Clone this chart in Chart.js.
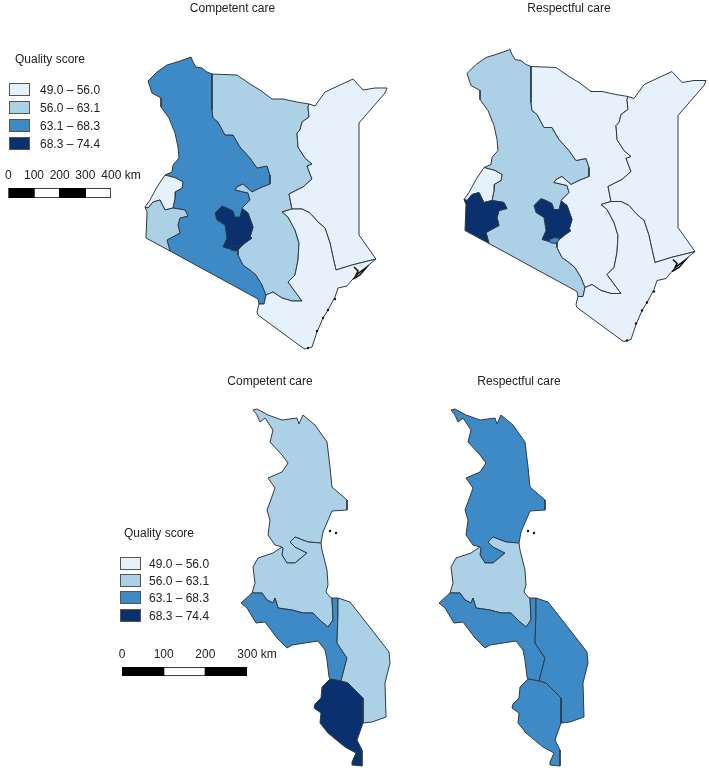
<!DOCTYPE html>
<html>
<head>
<meta charset="utf-8">
<title>Quality score maps</title>
<script src="https://cdn.jsdelivr.net/npm/chart.js@4"></script>
<style>
html, body { margin: 0; padding: 0; background: #fff; }
#page { position: relative; width: 709px; height: 768px; overflow: hidden; font: 12px "Liberation Sans", Arial, sans-serif; color: #222; }
#page canvas { position: absolute; }
.txt { position: absolute; white-space: nowrap; line-height: 14px; }
.box { position: absolute; width: 21px; box-sizing: border-box; border: 1px solid #555; }
</style>
</head>
<body>
<div id="page"></div>
<script>
'use strict';

// colour classes, shared by all four maps
let classLabels = ['49.0 – 56.0', '56.0 – 63.1', '63.1 – 68.3', '68.3 – 74.4'];
let classBreaks = [56.0, 63.1, 68.3, 74.4];
let classColors = ['#e6f1fb', '#acd0e6', '#3e8ac6', '#0a316e'];

let kenyaRegions = ['Rift Valley', 'Eastern', 'North Eastern', 'Coast', 'Western', 'Nyanza', 'Central', 'Nairobi'];
let kenyaCompetent = [66, 60, 52, 52, 52, 60, 71, 71];
let kenyaRespectful = [60, 52, 52, 52, 52, 71, 71, 66];

let malawiRegions = ['Northern', 'Central', 'South West', 'South East', 'Southern'];
let malawiCompetent = [60, 60, 66, 60, 71];
let malawiRespectful = [66, 60, 66, 66, 66];

let scaleKenya = [100, 100, 100, 100];
let scaleMalawi = [100, 100, 100];

// shared borders, in map units
let riftNorth = [[212,74],[207,72],[202,68],[196,67],[193,62],[191,57],[180,61],[167,65],[157,72],[148,81],[151,90],[152,93],[161,98],[161,107],[169,118],[175,133],[178,147],[179,158],[173,165],[172,172],[165,175]];
let riftWestern = [[165,175],[176,178],[183,182],[182,188],[175,192],[175,198],[173,208]];
let riftNyanza = [[173,208],[185,210],[188,216],[180,218],[178,225],[180,233],[167,240],[170,251]];
let riftSouth = [[170,251],[258,299],[259,304],[264,304],[266,295]];
let riftEastern = [[212,74],[212,107],[212,110],[213,118],[218,122],[225,135],[233,135],[240,147],[250,158],[257,168],[267,166],[270,175],[270,184],[260,188],[252,192],[243,184],[237,187],[235,190],[248,193],[250,200],[242,208],[248,213],[253,227],[250,237],[252,238],[245,243],[238,249],[238,255],[243,265],[250,270],[256,275],[262,285],[266,295]];
let easternCoast = [[266,295],[273,292],[282,298],[292,301],[302,301],[288,282],[295,275],[298,260],[299,243],[295,230],[288,217],[282,212],[292,209]];
let easternNorth = [[212,74],[237,75],[250,84],[260,90],[272,99],[283,99],[297,102],[309,104]];
let easternNe = [[309,104],[308,107],[309,117],[302,122],[300,130],[297,133],[298,147],[305,158],[312,164],[307,166],[312,179],[303,187],[289,194],[292,209]];
let neCoast = [[292,209],[302,209],[310,213],[318,222],[325,228],[330,243],[333,257],[336,270],[352,265],[376,259]];
let neOuter = [[309,104],[315,106],[325,92],[353,79],[363,90],[375,88],[387,88],[385,93],[359,123],[359,235],[376,259]];
let coastOuter = [[376,259],[365,268],[357,275],[352,280],[347,286],[338,288],[335,297],[328,310],[323,318],[317,332],[312,347],[305,349],[303,348],[258,315],[257,312],[259,304],[264,304],[266,295]];
let westernOuter = [[165,175],[157,187],[151,198],[150,200],[145,207]];
let westernNyanza = [[173,208],[165,210],[160,200],[153,202],[148,208],[145,207]];
let nyanzaOuter = [[145,207],[147,212],[146,238],[170,251]];
let centralShape = [[222,206],[215,213],[217,220],[225,225],[227,238],[223,247],[230,249],[235,245],[238,249],[245,243],[252,238],[250,237],[253,227],[248,213],[242,209],[240,217],[235,217],[233,211],[227,208]];
let nairobiShape = [[230,247],[236,245],[241,246],[239,249],[236,251],[231,250]];
let lamuMarks = [[354,267],[358,271],[356,275],[360,272],[366,268],[360,275],[353,279]];
let coastSpecks = [[335,299],[328,310],[323,318],[317,331],[308,348]];

let northWest = [[282,547],[275,545],[268,535],[270,520],[267,510],[270,502],[275,488],[268,478],[282,472],[288,463],[282,455],[270,442],[273,430],[265,418],[260,422],[257,415],[253,410],[257,409],[268,415],[282,420],[297,418],[299,424],[303,415],[315,425],[327,442],[330,467],[332,487],[347,500],[347,510],[332,511],[323,532],[321,543]];
let northCentral = [[321,543],[308,542],[295,537],[290,542],[295,547],[307,553],[295,563],[287,563],[282,555],[283,548],[282,547]];
let centralWest = [[282,547],[273,553],[258,558],[253,567],[255,583],[252,593]];
let centralSouth = [[252,593],[262,593],[267,600],[273,603],[275,598],[278,608],[292,610],[303,613],[313,613],[322,622],[328,627],[333,620],[332,598]];
let centralEast = [[332,598],[330,597],[326,592],[328,585],[327,570],[322,550],[321,543]];
let southWestOuter = [[252,593],[241,603],[247,608],[250,613],[256,623],[265,622],[277,638],[287,648],[292,645],[318,641],[325,650],[327,660],[329,677],[330,679]];
let southWestEast = [[330,679],[341,681],[347,658],[337,643],[338,613],[338,598]];
let southEastOuter = [[338,598],[350,602],[372,630],[389,652],[390,663],[385,683],[386,717],[372,722],[363,723]];
let southEastSouth = [[363,723],[363,698],[355,690],[348,683],[341,681]];
let southernOuter = [[363,723],[357,740],[362,750],[362,766],[352,765],[352,762],[356,753],[345,747],[328,733],[320,723],[321,713],[314,708],[315,704],[321,698],[322,687],[330,679]];
let lakeIslands = [[330,531],[336,533]];

function join() {
  let out = [];
  for (let i = 0; i < arguments.length; i++) {
    out = out.concat(arguments[i]);
  }
  return out;
}
function rev(arc) {
  return arc.slice().reverse();
}

let kenyaShapes = [
  join(riftNorth, riftWestern, riftNyanza, riftSouth, rev(riftEastern)),
  join(riftEastern, easternCoast, rev(easternNe), rev(easternNorth)),
  join(easternNe, neCoast, rev(neOuter)),
  join(neCoast, coastOuter, easternCoast),
  join(westernOuter, rev(westernNyanza), rev(riftWestern)),
  join(westernNyanza, nyanzaOuter, rev(riftNyanza)),
  centralShape,
  nairobiShape
];
let malawiShapes = [
  join(northWest, northCentral),
  join(northCentral, centralWest, centralSouth, centralEast),
  join(rev(centralSouth), southWestOuter, southWestEast),
  join(southWestEast.slice(1), southEastOuter, southEastSouth),
  join(southWestEast.slice(0, 1), rev(southEastSouth), southernOuter)
];

let page = document.getElementById('page');

function colorFor(score) {
  for (let i = 0; i < classBreaks.length; i++) {
    if (score <= classBreaks[i]) return classColors[i];
  }
  return classColors[classColors.length - 1];
}

function toPoints(arc) {
  return arc.map(function (p) { return { x: p[0], y: p[1] }; });
}

function addCanvas(left, top, width, height) {
  let c = document.createElement('canvas');
  c.width = width;
  c.height = height;
  c.style.left = left + 'px';
  c.style.top = top + 'px';
  c.style.width = width + 'px';
  c.style.height = height + 'px';
  page.appendChild(c);
  return c;
}

function drawMap(title, shapes, scores, names, marks, box) {
  let datasets = [];
  // dots and scribbles go first so they end up on top
  marks.forEach(function (m) {
    datasets.push({
      label: m.label,
      data: toPoints(m.arc),
      showLine: m.line,
      fill: false,
      borderColor: '#111',
      borderWidth: 1.5,
      backgroundColor: '#111',
      pointRadius: m.line ? 0 : 1.2,
      pointBorderWidth: 0,
      clip: false
    });
  });
  // reversed so the small regions are drawn after the big ones
  for (let i = shapes.length - 1; i >= 0; i--) {
    let closed = shapes[i].concat([shapes[i][0]]);
    datasets.push({
      label: names[i],
      data: toPoints(closed),
      showLine: true,
      fill: 'shape',
      tension: 0,
      backgroundColor: colorFor(scores[i]),
      borderColor: '#2e3a46',
      borderWidth: 1,
      borderJoinStyle: 'round',
      pointRadius: 0,
      clip: false
    });
  }
  new Chart(addCanvas(box.left, box.top, box.width, box.height), {
    type: 'scatter',
    data: { datasets: datasets },
    options: {
      responsive: false,
      animation: false,
      layout: { padding: 0, autoPadding: false },
      plugins: {
        legend: { display: false },
        tooltip: { enabled: false },
        title: {
          display: true,
          text: title,
          color: '#222',
          font: { family: '"Liberation Sans"', size: 12, weight: 'normal', lineHeight: 1.2 },
          padding: { top: 0, bottom: 5.6 }
        }
      },
      scales: {
        x: { type: 'linear', display: false, min: box.xMin, max: box.xMin + box.width },
        y: { type: 'linear', display: false, reverse: true, min: box.yMin, max: box.yMin + box.height - 20 }
      }
    }
  });
}

function drawScale(segments, box) {
  let datasets = segments.map(function (v, i) {
    return {
      label: 'segment ' + i,
      data: [v],
      backgroundColor: i % 2 === 0 ? '#000' : '#fff',
      borderColor: '#000',
      borderWidth: 1,
      borderSkipped: false,
      barPercentage: 1,
      categoryPercentage: 1
    };
  });
  let total = segments.reduce(function (a, b) { return a + b; }, 0);
  new Chart(addCanvas(box.left, box.top, box.width, box.height), {
    type: 'bar',
    data: { labels: ['km'], datasets: datasets },
    options: {
      indexAxis: 'y',
      responsive: false,
      animation: false,
      layout: { padding: { left: box.padLeft, right: box.padRight, top: 0, bottom: 1 }, autoPadding: false },
      plugins: { legend: { display: false }, tooltip: { enabled: false } },
      scales: {
        x: {
          type: 'linear',
          position: 'top',
          stacked: true,
          min: 0,
          max: total,
          afterFit: function (s) { s.height = box.axisHeight; },
          grid: { display: false, drawTicks: false },
          border: { display: false },
          ticks: {
            stepSize: 100,
            maxRotation: 0,
            autoSkip: false,
            padding: 5,
            color: '#222',
            font: { family: '"Liberation Sans"', size: 12 },
            // spaces keep the number centred on its tick
            callback: function (v) { return v === total ? '      ' + v + ' km' : '' + v; }
          }
        },
        y: { stacked: true, display: false }
      }
    }
  });
}

function addText(text, x, y) {
  let d = document.createElement('div');
  d.className = 'txt';
  d.textContent = text;
  d.style.left = x + 'px';
  d.style.top = (y - 7) + 'px';
  page.appendChild(d);
}

function drawLegend(titleX, titleY, boxX, labelX, rows) {
  addText('Quality score', titleX, titleY);
  classLabels.forEach(function (label, i) {
    let b = document.createElement('div');
    b.className = 'box';
    b.style.left = boxX + 'px';
    b.style.top = rows[i][0] + 'px';
    b.style.height = rows[i][1] + 'px';
    b.style.background = classColors[i];
    page.appendChild(b);
    addText(label, labelX, rows[i][0] + rows[i][1] / 2);
  });
}

let kenyaMarks = [
  { label: 'Lamu', arc: lamuMarks, line: true },
  { label: 'Coast islands', arc: coastSpecks, line: false }
];
let malawiMarks = [{ label: 'Lake islands', arc: lakeIslands, line: false }];

drawMap('Competent care', kenyaShapes, kenyaCompetent, kenyaRegions, kenyaMarks,
  { left: 75, top: 1, width: 315, height: 354, xMin: 75, yMin: 21 });
drawMap('Respectful care', kenyaShapes, kenyaRespectful, kenyaRegions, kenyaMarks,
  { left: 430, top: 1, width: 278, height: 352, xMin: 111, yMin: 28.5 });
drawMap('Competent care', malawiShapes, malawiCompetent, malawiRegions, malawiMarks,
  { left: 148, top: 374, width: 244, height: 394, xMin: 148, yMin: 394 });
drawMap('Respectful care', malawiShapes, malawiRespectful, malawiRegions, malawiMarks,
  { left: 437, top: 374, width: 164, height: 394, xMin: 239, yMin: 394 });

drawLegend(15, 59, 9, 40, [[83, 13], [101, 13], [119, 13], [137, 13]]);
drawLegend(124, 533, 120, 149, [[557, 13], [574, 13], [591, 13], [609, 13]]);

drawScale(scaleKenya, { left: 0, top: 165, width: 160, height: 34, padLeft: 3, padRight: 49, axisHeight: 23 });
drawScale(scaleMalawi, { left: 100, top: 644, width: 200, height: 33, padLeft: 22, padRight: 53, axisHeight: 23 });
</script>
</body>
</html>
